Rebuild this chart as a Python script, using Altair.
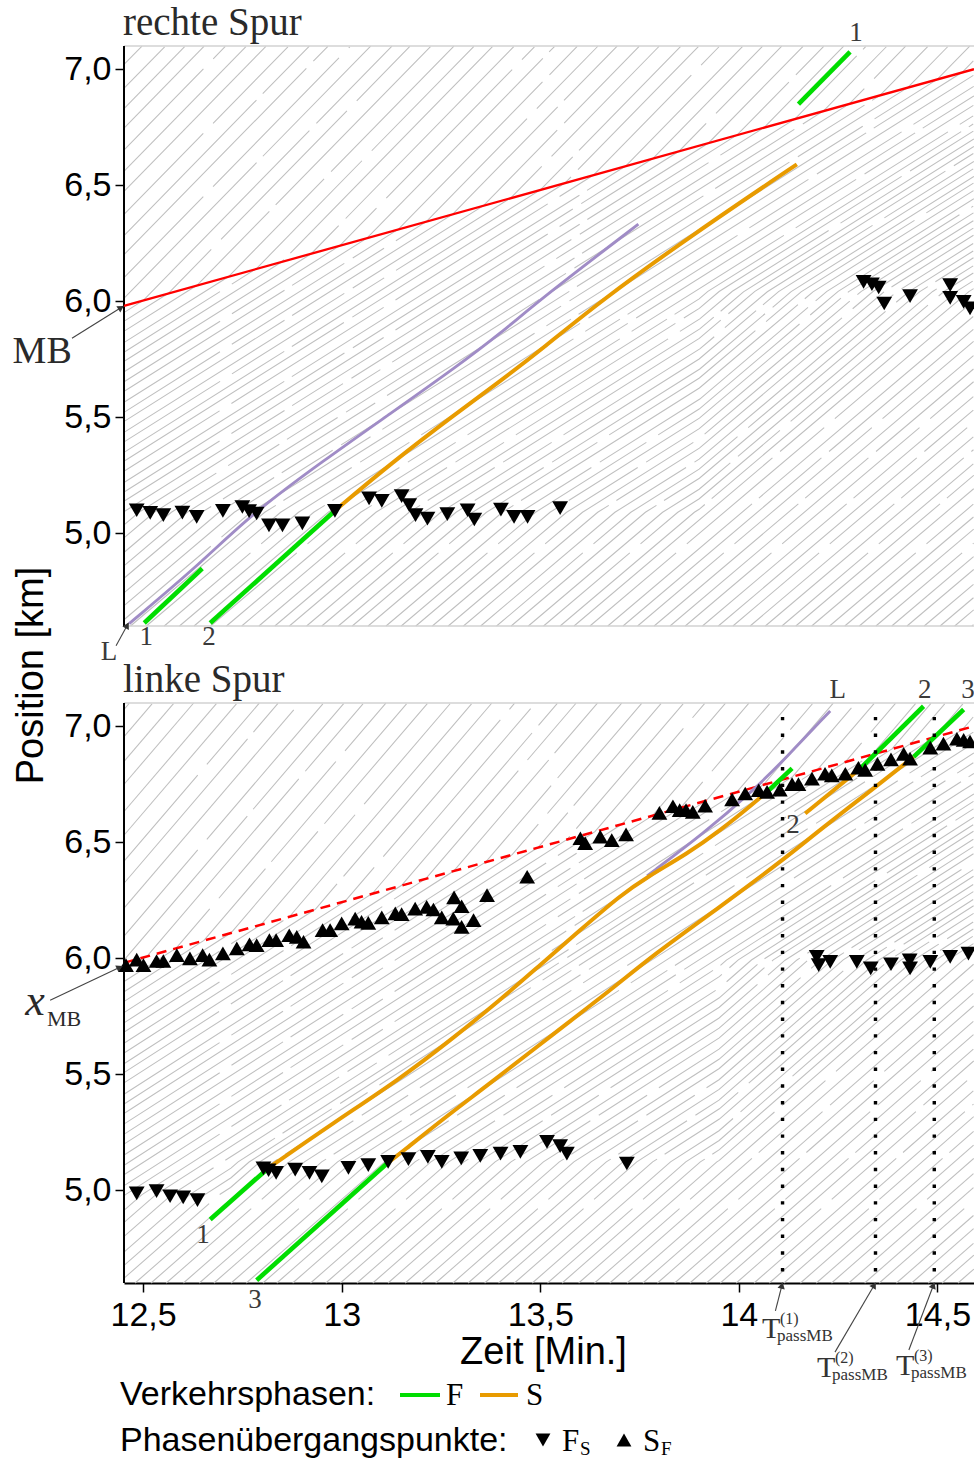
import math
import numpy as np
import pandas as pd
import altair as alt

# ------------------------------------------------------------------ layout
T_MIN, T_MAX = 12.452, 14.592          # Zeit [Min.]
P_MIN, P_MAX = 4.6, 7.1                # Position [km]
PLOT_W, PANEL_H, PANEL_GAP = 850, 580, 77
PX_PER_KM = PANEL_H / (P_MAX - P_MIN)
PX_PER_MIN = PLOT_W / (T_MAX - T_MIN)
SHIFT = (P_MAX - P_MIN) + PANEL_GAP / PX_PER_KM   # lower panel sits SHIFT km below the upper one
Y_LO = P_MIN - SHIFT
PLOT_H = 2 * PANEL_H + PANEL_GAP
PAD_L, PAD_T = 124, 46

SANS = "Liberation Sans"
SERIF = "Liberation Serif"
INK = "#2a2a2a"
GREEN, ORANGE, PURPLE, RED = "#00dd00", "#e89b00", "#a08cc6", "#ff0000"

x_ticks = [12.5, 13.0, 13.5, 14.0, 14.5]
y_ticks = [5.0, 5.5, 6.0, 6.5, 7.0]

# ------------------------------------------------------------------ data
# moving bottleneck (MB)
mb_t = [12.452, 14.592]
mb_x = [5.98, 7.00]

# --- rechte Spur
top_L_t = [12.465, 12.645, 12.771, 12.956, 13.123, 13.291, 13.399, 13.509, 13.747]
top_L_x = [4.61, 4.87, 5.08, 5.315, 5.516, 5.72, 5.86, 6.02, 6.332]
top_F1_t = [12.503, 12.649]
top_F1_x = [4.613, 4.848]
top_F2_t = [12.669, 12.985]
top_F2_x = [4.613, 5.10]
top_S2_t = [12.985, 13.123, 13.291, 13.399, 13.509, 13.651, 13.886, 14.146]
top_S2_x = [5.10, 5.30, 5.52, 5.655, 5.80, 6.00, 6.29, 6.59]
top_F1b_t = [14.150, 14.280]
top_F1b_x = [6.849, 7.075]
top_FS_t = [12.484, 12.518, 12.551, 12.599, 12.635, 12.701, 12.750, 12.767, 12.786, 12.817,
            12.851, 12.901, 12.983, 13.069, 13.101, 13.151, 13.170, 13.186, 13.216, 13.266,
            13.317, 13.334, 13.401, 13.434, 13.468, 13.550,
            14.314, 14.335, 14.352, 14.366, 14.431, 14.532, 14.532, 14.566, 14.582]
top_FS_x = [5.099, 5.088, 5.078, 5.089, 5.070, 5.096, 5.113, 5.095, 5.085, 5.034,
            5.034, 5.042, 5.096, 5.150, 5.139, 5.160, 5.121, 5.078, 5.063, 5.082,
            5.099, 5.059, 5.102, 5.070, 5.070, 5.108,
            6.083, 6.073, 6.059, 5.990, 6.022, 6.069, 6.014, 5.997, 5.969]

# --- linke Spur
bot_L_t = [13.769, 13.911, 14.037, 14.121, 14.230]
bot_L_x = [6.355, 6.537, 6.724, 6.868, 7.066]
bot_F1_t = [12.669, 12.815]
bot_F1_x = [4.874, 5.095]
bot_S1_t = [12.815, 12.979, 13.147, 13.273, 13.399, 13.499, 13.600, 13.701, 13.769, 13.870,
            13.953, 14.037, 14.071]
bot_S1_x = [5.095, 5.29, 5.48, 5.645, 5.82, 5.97, 6.12, 6.27, 6.35, 6.45,
            6.55, 6.667, 6.717]
bot_F1b_t = [14.071, 14.134]
bot_F1b_x = [6.717, 6.818]
bot_F3_t = [12.786, 13.114]
bot_F3_x = [4.612, 5.115]
bot_S3_t = [13.114, 13.147, 13.273, 13.366, 13.534, 13.677, 13.785, 13.953, 14.109, 14.205,
            14.339, 14.440]
bot_S3_x = [5.115, 5.158, 5.331, 5.45, 5.675, 5.862, 6.015, 6.222, 6.42, 6.555,
            6.731, 6.868]
bot_F3b_t = [14.440, 14.566]
bot_F3b_x = [6.868, 7.072]
bot_S2_t = [14.167, 14.306]
bot_S2_x = [6.624, 6.818]
bot_F2_t = [14.306, 14.465]
bot_F2_x = [6.818, 7.086]
bot_FS_t = [12.484, 12.534, 12.568, 12.601, 12.637,
            12.803, 12.816, 12.835, 12.883, 12.919, 12.950, 13.017, 13.067, 13.117, 13.168,
            13.217, 13.252, 13.301, 13.349, 13.400, 13.450, 13.517, 13.550, 13.567, 13.718,
            14.196, 14.201, 14.230, 14.297, 14.332, 14.383, 14.430, 14.431, 14.482, 14.532, 14.578]
bot_FS_x = [4.986, 4.996, 4.974, 4.969, 4.957,
            5.094, 5.086, 5.075, 5.089, 5.075, 5.060, 5.096, 5.108, 5.122, 5.134,
            5.144, 5.122, 5.137, 5.148, 5.158, 5.165, 5.208, 5.190, 5.158, 5.115,
            6.006, 5.970, 5.984, 5.984, 5.956, 5.974, 5.991, 5.956, 5.984, 6.006, 6.020]
bot_SF_t = [12.457, 12.484, 12.501, 12.534, 12.551, 12.585, 12.618, 12.650, 12.667, 12.701,
            12.736, 12.768, 12.786, 12.818, 12.835, 12.868, 12.887, 12.904, 12.952, 12.971,
            13.000, 13.034, 13.050, 13.067, 13.101, 13.135, 13.151, 13.185, 13.214, 13.231,
            13.252, 13.283, 13.302, 13.281, 13.302, 13.332, 13.366, 13.467,
            13.601, 13.613, 13.651, 13.680, 13.716, 13.800, 13.834, 13.851, 13.867, 13.884,
            13.915, 13.983, 14.016, 14.050, 14.071, 14.103, 14.134, 14.150, 14.184, 14.217,
            14.234, 14.268, 14.301, 14.318, 14.349, 14.383, 14.415, 14.431, 14.482, 14.515,
            14.549, 14.566, 14.582]
bot_SF_x = [5.970, 5.994, 5.970, 5.988, 5.988, 6.013, 5.999, 6.013, 5.994, 6.021,
            6.042, 6.060, 6.056, 6.078, 6.078, 6.099, 6.092, 6.071, 6.121, 6.121,
            6.150, 6.171, 6.157, 6.152, 6.176, 6.193, 6.190, 6.214, 6.221, 6.210,
            6.176, 6.262, 6.224, 6.171, 6.135, 6.164, 6.272, 6.351,
            6.517, 6.496, 6.524, 6.509, 6.534, 6.626, 6.655, 6.638, 6.638, 6.631,
            6.657, 6.684, 6.710, 6.724, 6.717, 6.727, 6.750, 6.750, 6.774, 6.795,
            6.788, 6.795, 6.821, 6.812, 6.838, 6.857, 6.881, 6.860, 6.908, 6.925,
            6.946, 6.941, 6.934]
t_pass = [14.110, 14.344, 14.492]       # T_passMB^(1..3)
t_pass_top = 7.04

# background trajectories: vehicle headways [s] and zone speeds [km/min]
HEADWAYS_S = [2.4, 2.2, 2.6, 2.3, 2.5, 2.1, 2.4, 2.7, 2.3, 2.2, 2.5, 2.4, 2.3, 2.6]
SPEEDS = {
    "top": {"down": 1.75, "sync": 1.08, "up": 1.45},
    "bottom": {"down": 2.0, "sync": 1.1, "up": 1.5},
}
FS_BREAKS = {"top": ([13.9], [5.09, 6.04]),
             "bottom": ([12.72, 13.95], [4.98, 5.12, 5.99])}


def ypos(p, panel):
    return p if panel == "top" else p - SHIFT


def mb_pos(t):
    return mb_x[0] + (mb_x[1] - mb_x[0]) * (t - mb_t[0]) / (mb_t[1] - mb_t[0])


def fs_level(panel, t):
    breaks, levels = FS_BREAKS[panel]
    return levels[int(np.searchsorted(breaks, t))]


def speed(panel, t, p):
    if p >= mb_pos(t):
        return SPEEDS[panel]["down"], 2
    if p < fs_level(panel, t):
        return SPEEDS[panel]["up"], 0
    return SPEEDS[panel]["sync"], 1


def entry_times(start, stop, offset):
    out, t, i = [], start, offset
    while t < stop:
        out.append(t)
        t += HEADWAYS_S[i % len(HEADWAYS_S)] / 60.0
        i += 1
    return out


def trajectories(panel, starts, dt=0.002):
    rows = []
    for k, t0 in enumerate(starts):
        t, p = t0, P_MIN
        pts, last_reg, last_pt = [], None, None
        while p <= P_MAX and t <= T_MAX:
            v, reg = speed(panel, t, p)
            if t >= T_MIN:
                if not pts or reg != last_reg:
                    pts.append((t, p))
                last_pt, last_reg = (t, p), reg
            t += dt
            p += v * dt
        if last_pt is not None and pts[-1] != last_pt:
            pts.append(last_pt)
        if len(pts) >= 2:
            for tt, pp in pts:
                rows.append({"id": f"{panel}{k}", "grp": k % 3, "t": tt,
                             "y": ypos(pp, panel)})
    return rows


traj = pd.DataFrame(trajectories("top", entry_times(10.0, T_MAX, 0))
                    + trajectories("bottom", entry_times(10.01, T_MAX, 5)))


def seg_df(pairs):
    rows = []
    for sid, (ts, xs, panel) in enumerate(pairs):
        for t, x in zip(ts, xs):
            rows.append({"seg": sid, "t": t, "y": ypos(x, panel)})
    return pd.DataFrame(rows)


green_df = seg_df([(top_F1_t, top_F1_x, "top"), (top_F2_t, top_F2_x, "top"),
                   (top_F1b_t, top_F1b_x, "top"), (bot_F1_t, bot_F1_x, "bottom"),
                   (bot_F1b_t, bot_F1b_x, "bottom"), (bot_F3_t, bot_F3_x, "bottom"),
                   (bot_F3b_t, bot_F3b_x, "bottom"), (bot_F2_t, bot_F2_x, "bottom")])
orange_df = seg_df([(top_S2_t, top_S2_x, "top"), (bot_S1_t, bot_S1_x, "bottom"),
                    (bot_S3_t, bot_S3_x, "bottom"), (bot_S2_t, bot_S2_x, "bottom")])
purple_df = seg_df([(top_L_t, top_L_x, "top"), (bot_L_t, bot_L_x, "bottom")])
mb_top_df = seg_df([(mb_t, mb_x, "top")])
mb_bot_df = seg_df([(mb_t, mb_x, "bottom")])

fs_df = pd.DataFrame({"t": top_FS_t + bot_FS_t,
                      "y": [ypos(v, "top") for v in top_FS_x] + [ypos(v, "bottom") for v in bot_FS_x]})
sf_df = pd.DataFrame({"t": bot_SF_t, "y": [ypos(v, "bottom") for v in bot_SF_x]})
pass_df = pd.DataFrame({"t": t_pass, "y": [ypos(t_pass_top, "bottom")] * 3,
                        "y2": [ypos(P_MIN, "bottom")] * 3})

# ------------------------------------------------------------------ scales & axes
x_scale = alt.Scale(domain=[T_MIN, T_MAX], nice=False, zero=False)
y_scale = alt.Scale(domain=[Y_LO, P_MAX], nice=False, zero=False)

# tick values of both panels on the shared y scale; labels show the panel's own km value
y_values = y_ticks + [v - SHIFT for v in y_ticks]
y_split = (P_MIN + P_MAX - SHIFT) / 2
y_label = (f"datum.value > {y_split:.4f} ? replace(format(datum.value, '.1f'), '.', ',') : "
           f"replace(format(datum.value + {SHIFT:.6f}, '.1f'), '.', ',')")

x_axis = alt.Axis(values=x_ticks, labelExpr="replace(toString(datum.value), '.', ',')",
                  title="Zeit [Min.]", grid=False, domain=True, domainColor="black",
                  domainWidth=2, ticks=True, tickColor="black", tickWidth=1.5, tickSize=9,
                  labelFont=SANS, labelFontSize=34, labelColor="black", labelPadding=6,
                  labelOverlap=False, labelFlush=False,
                  titleFont=SANS, titleFontSize=38, titleFontWeight="normal", titleColor="black",
                  titleX=419, titleY=69, titleAlign="center", titleBaseline="middle")
y_axis = alt.Axis(values=y_values, labelExpr=y_label, title="Position [km]", grid=False,
                  domain=False, ticks=True, tickColor="black", tickWidth=1.5, tickSize=9,
                  labelFont=SANS, labelFontSize=34, labelColor="black", labelPadding=4,
                  labelOverlap=False,
                  titleFont=SANS, titleFontSize=38, titleFontWeight="normal", titleColor="black",
                  titleX=-93, titleY=629, titleAngle=270, titleAlign="center",
                  titleBaseline="middle")


def X(f="t"):
    return alt.X(f"{f}:Q", scale=x_scale, axis=x_axis)


def Y(f="y"):
    return alt.Y(f"{f}:Q", scale=y_scale, axis=y_axis)


layers = []

# background trajectories; short breaks mark where vehicles leave / rejoin the lane
traj_styles = [([260, 10], 0), ([180, 14], 67), ([340, 9], 151)]
for g, (dash, off) in enumerate(traj_styles):
    layers.append(alt.Chart(traj[traj["grp"] == g]).mark_line(
        color="#bfbfbf", strokeWidth=1.05, strokeDash=dash, strokeDashOffset=off).encode(
        x=X(), y=Y(), detail="id:N", order="t:Q"))

# panel frames
frame_df = pd.DataFrame({"t": [T_MIN] * 3, "t2": [T_MAX] * 3,
                         "y": [P_MAX, P_MIN, P_MAX - SHIFT]})
layers.append(alt.Chart(frame_df).mark_rule(color="#d2d2d2", strokeWidth=1.5).encode(
    x=X(), x2="t2:Q", y=Y()))
yaxis_df = pd.DataFrame({"t": [T_MIN, T_MIN], "y": [P_MIN, P_MIN - SHIFT],
                         "y2": [P_MAX, P_MAX - SHIFT]})
layers.append(alt.Chart(yaxis_df).mark_rule(color="black", strokeWidth=2).encode(
    x=X(), y=Y(), y2="y2:Q"))

# moving bottleneck
layers.append(alt.Chart(mb_top_df).mark_line(color=RED, strokeWidth=2.3).encode(
    x=X(), y=Y(), order="t:Q"))
layers.append(alt.Chart(mb_bot_df).mark_line(color=RED, strokeWidth=2.5,
                                             strokeDash=[10, 7]).encode(
    x=X(), y=Y(), order="t:Q"))

# traffic phases
layers.append(alt.Chart(purple_df).mark_line(color=PURPLE, strokeWidth=2.9,
                                             interpolate="basis").encode(
    x=X(), y=Y(), detail="seg:N", order="t:Q"))
layers.append(alt.Chart(orange_df).mark_line(color=ORANGE, strokeWidth=4.0,
                                             interpolate="basis").encode(
    x=X(), y=Y(), detail="seg:N", order="t:Q"))
layers.append(alt.Chart(green_df).mark_line(color=GREEN, strokeWidth=4.6).encode(
    x=X(), y=Y(), detail="seg:N", order="t:Q"))

# T_passMB markers
layers.append(alt.Chart(pass_df).mark_rule(color="black", strokeWidth=3.4,
                                           strokeDash=[3.4, 13.3]).encode(
    x=X(), y=Y(), y2="y2:Q"))

# phase transition points
layers.append(alt.Chart(fs_df).mark_point(shape="triangle-down", filled=True, size=250,
                                          color="black", opacity=1).encode(x=X(), y=Y()))
layers.append(alt.Chart(sf_df).mark_point(shape="triangle-up", filled=True, size=250,
                                          color="black", opacity=1).encode(x=X(), y=Y()))

# ------------------------------------------------------------------ annotations
serif_labels = pd.DataFrame([
    {"t": 14.295, "y": ypos(7.155, "top"), "label": "1"},
    {"t": 12.508, "y": ypos(4.552, "top"), "label": "1"},
    {"t": 12.666, "y": ypos(4.552, "top"), "label": "2"},
    {"t": 12.414, "y": ypos(4.488, "top"), "label": "L"},
    {"t": 14.249, "y": ypos(7.155, "bottom"), "label": "L"},
    {"t": 14.468, "y": ypos(7.155, "bottom"), "label": "2"},
    {"t": 14.577, "y": ypos(7.155, "bottom"), "label": "3"},
    {"t": 14.136, "y": ypos(6.573, "bottom"), "label": "2"},
    {"t": 12.651, "y": ypos(4.806, "bottom"), "label": "1"},
    {"t": 12.782, "y": ypos(4.526, "bottom"), "label": "3"},
])
layers.append(alt.Chart(serif_labels).mark_text(font=SERIF, fontSize=27, color="#3a3a3a").encode(
    x=X(), y=Y(), text="label:N"))

mb_label = pd.DataFrame([{"t": 12.246, "y": ypos(5.780, "top"), "label": "MB"}])
layers.append(alt.Chart(mb_label).mark_text(font=SERIF, fontSize=38, color=INK).encode(
    x=X(), y=Y(), text="label:N"))
xmb = pd.DataFrame([{"t": 12.228, "y": ypos(5.812, "bottom"), "label": "x"}])
layers.append(alt.Chart(xmb).mark_text(font=SERIF, fontSize=44, fontStyle="italic",
                                       color=INK).encode(x=X(), y=Y(), text="label:N"))
xmb_sub = pd.DataFrame([{"t": 12.258, "y": ypos(5.737, "bottom"), "label": "MB"}])
layers.append(alt.Chart(xmb_sub).mark_text(font=SERIF, fontSize=22, color=INK,
                                           align="left").encode(x=X(), y=Y(), text="label:N"))

# arrows (tail -> tip), drawn in data coordinates
arrows = [
    ((12.321, 5.840), (12.450, 5.978), "top"),
    ((12.432, 4.515), (12.463, 4.612), "top"),
    ((12.266, 5.819), (12.447, 5.965), "bottom"),
    ((14.092, 4.480), (t_pass[0], P_MIN), "bottom"),
    ((14.242, 4.302), (t_pass[1], P_MIN), "bottom"),
    ((14.428, 4.311), (t_pass[2], P_MIN), "bottom"),
]
arrow_rows, head_layers = [], []
for (t0, p0), (t1, p1), panel in arrows:
    y0, y1 = ypos(p0, panel), ypos(p1, panel)
    arrow_rows.append({"t": t0, "y": y0, "t2": t1, "y2": y1})
    dx = (t1 - t0) * PX_PER_MIN
    dy = -(y1 - y0) * PX_PER_KM
    n = math.hypot(dx, dy)
    ang = math.degrees(math.atan2(dx, -dy)) % 360
    back = 3.6
    ht = t1 - dx / n * back / PX_PER_MIN
    hy = y1 + dy / n * back / PX_PER_KM
    head_layers.append(alt.Chart(pd.DataFrame({"t": [ht], "y": [hy]})).mark_point(
        shape="triangle", filled=True, size=55, color="#333333", opacity=1,
        angle=round(ang, 1)).encode(x=X(), y=Y()))
layers.append(alt.Chart(pd.DataFrame(arrow_rows)).mark_rule(color="#444444",
                                                            strokeWidth=1.1).encode(
    x=X(), y=Y(), x2="t2:Q", y2="y2:Q"))
layers.extend(head_layers)

ONE = pd.DataFrame({"k": [0]})


def px_text(x, y, s, size, font=SANS, color="black", align="left",
            baseline="alphabetic", style="normal"):
    return alt.Chart(ONE).mark_text(text=s, font=font, fontSize=size, color=color,
                                    align=align, baseline=baseline, fontStyle=style).encode(
        x=alt.value(x - PAD_L), y=alt.value(y - PAD_T))


# panel titles
layers.append(px_text(123, 35, "rechte Spur", 39, font=SERIF, color=INK))
layers.append(px_text(123, 692, "linke Spur", 39, font=SERIF, color=INK))

# T_passMB labels
t_labels = [((762, 1338), "(1)"), ((817, 1377), "(2)"), ((896, 1375), "(3)")]
for (tx, ty), sup in t_labels:
    layers.append(px_text(tx, ty, "T", 30, font=SERIF, color="#333333"))
    layers.append(px_text(tx + 18, ty - 14, sup, 16, font=SERIF, color="#333333"))
    layers.append(px_text(tx + 15, ty + 3, "passMB", 17, font=SERIF, color="#333333"))

# legend
layers.append(px_text(120, 1405, "Verkehrsphasen:", 34))
layers.append(alt.Chart(ONE).mark_rule(color=GREEN, strokeWidth=4).encode(
    x=alt.value(400 - PAD_L), x2=alt.value(440 - PAD_L), y=alt.value(1395 - PAD_T)))
layers.append(px_text(446, 1405, "F", 31, font=SERIF))
layers.append(alt.Chart(ONE).mark_rule(color=ORANGE, strokeWidth=4).encode(
    x=alt.value(480 - PAD_L), x2=alt.value(518 - PAD_L), y=alt.value(1395 - PAD_T)))
layers.append(px_text(526, 1405, "S", 31, font=SERIF))

layers.append(px_text(120, 1451, "Phasenübergangspunkte:", 34))
layers.append(alt.Chart(ONE).mark_point(shape="triangle-down", filled=True, size=220,
                                        color="black", opacity=1).encode(
    x=alt.value(543 - PAD_L), y=alt.value(1440 - PAD_T)))
layers.append(px_text(562, 1451, "F", 31, font=SERIF))
layers.append(px_text(580, 1455, "S", 19, font=SERIF))
layers.append(alt.Chart(ONE).mark_point(shape="triangle-up", filled=True, size=220,
                                        color="black", opacity=1).encode(
    x=alt.value(624 - PAD_L), y=alt.value(1440 - PAD_T)))
layers.append(px_text(643, 1451, "S", 31, font=SERIF))
layers.append(px_text(661, 1455, "F", 19, font=SERIF))

chart = alt.layer(*layers).properties(
    width=PLOT_W, height=PLOT_H,
    autosize=alt.AutoSizeParams(type="none"),
    padding={"left": PAD_L, "top": PAD_T, "right": 0, "bottom": 1459 - PAD_T - PLOT_H},
).configure(background="white").configure_view(strokeWidth=0)

chart.save("out.html", embed_options={"renderer": "svg", "actions": False})
